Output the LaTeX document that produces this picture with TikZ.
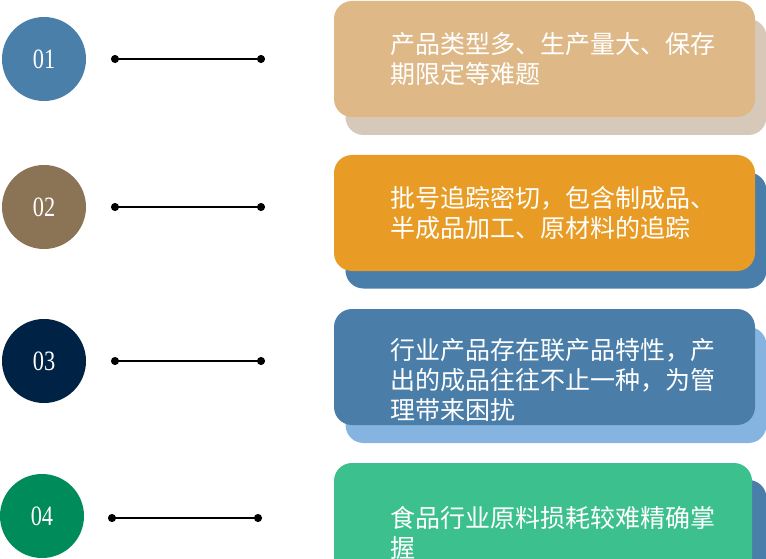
\documentclass[tikz,border=0pt]{standalone}
\usepackage{fontspec}
\usepackage{tikz}
\usetikzlibrary{arrows.meta,positioning}
\newfontfamily\cjk{Noto Sans CJK SC}
\newfontfamily\numfont[FakeStretch=0.8]{Liberation Serif}
\definecolor{discA}{HTML}{4A7FAA}
\definecolor{discB}{HTML}{8B7355}
\definecolor{discC}{HTML}{002244}
\definecolor{discD}{HTML}{008B5A}
\definecolor{cardA}{HTML}{DEB887}
\definecolor{shadeA}{HTML}{D7C9BA}
\definecolor{cardB}{HTML}{E89C25}
\definecolor{shadeB}{HTML}{4A7EAA}
\definecolor{cardC}{HTML}{4A7EA9}
\definecolor{shadeC}{HTML}{85B4E0}
\definecolor{cardD}{HTML}{3CC08E}
\definecolor{shadeD}{HTML}{4A7EAA}
\begin{document}
\begin{tikzpicture}[x=1pt, y=-1pt,
  numdisc/.style={circle, minimum size=84pt, inner sep=0pt, text=white, font=\numfont\fontsize{28}{28}\selectfont},
  card/.style={rounded corners=18pt, minimum width=421pt, minimum height=116pt, inner sep=0pt},
  cardtext/.style={text=white, align=left, inner sep=0pt, font=\cjk\fontsize{25}{30}\selectfont},
  stem/.style={line width=1.5pt, {Circle[length=8pt]}-{Circle[length=8pt]}}]
  \useasboundingbox (0,0) rectangle (766,559);
  \clip (0,0) rectangle (766,559);
  % numbered discs
  \node[numdisc, fill=discA] (d1) at (44,59) {01};
  \node[numdisc, fill=discB] (d2) at (44,207) {02};
  \node[numdisc, fill=discC] (d3) at (44,361) {03};
  \node[numdisc, fill=discD] (d4) at (42,516) {04};
  % connector stems
  \coordinate (s1a) at (111,59);  \coordinate (s1b) at (265,59);
  \coordinate (s2a) at (111,207); \coordinate (s2b) at (265,207);
  \coordinate (s3a) at (111,361); \coordinate (s3b) at (265,361);
  \coordinate (s4a) at (108,518); \coordinate (s4b) at (262,518);
  \draw[stem] (s1a) -- (s1b);
  \draw[stem] (s2a) -- (s2b);
  \draw[stem] (s3a) -- (s3b);
  \draw[stem] (s4a) -- (s4b);
  % cards with their shadows
  \node[card, fill=shadeA] (h1) at (556,77) {};
  \node[card, fill=cardA] (c1) at (544.5,59) {};
  \node[card, fill=shadeB] (h2) at (556,230.5) {};
  \node[card, fill=cardB] (c2) at (544.5,213) {};
  \node[card, fill=shadeC] (h3) at (556,385) {};
  \node[card, fill=cardC] (c3) at (544.5,367) {};
  \node[card, fill=shadeD] (h4) at (556,538) {};
  \node[card, fill=cardD, minimum width=418pt] (c4) at (543,521) {};
  % card texts
  \node[cardtext, anchor=north west, below right=31pt and 56pt of c1.north west] (t1) {产品类型多、生产量大、保存\\期限定等难题};
  \node[cardtext, anchor=north west, below right=31pt and 56pt of c2.north west] (t2) {批号追踪密切，包含制成品、\\半成品加工、原材料的追踪};
  \node[cardtext, anchor=north west, below right=29pt and 56pt of c3.north west] (t3) {行业产品存在联产品特性，产\\出的成品往往不止一种，为管\\理带来困扰};
  \node[cardtext, anchor=north west, below right=43pt and 56pt of c4.north west] (t4) {食品行业原料损耗较难精确掌\\握};
\end{tikzpicture}
\end{document}
